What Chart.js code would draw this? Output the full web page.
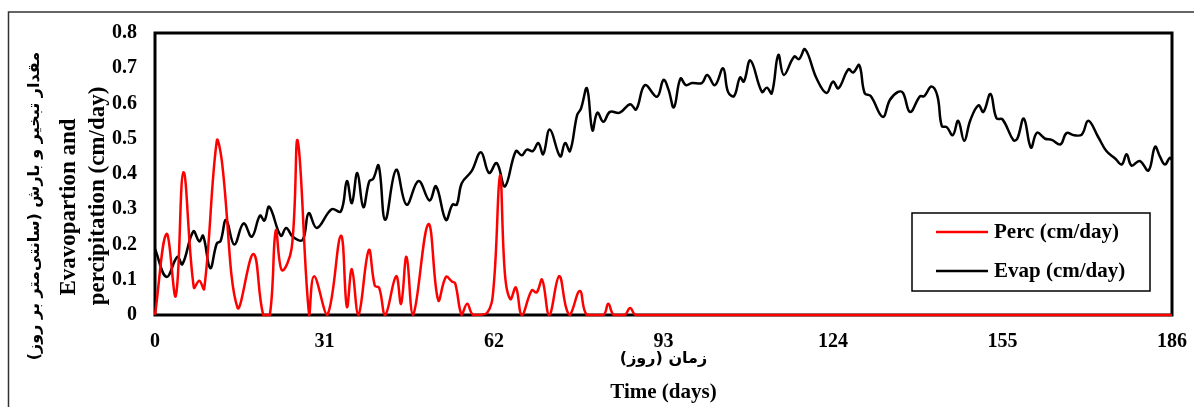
<!DOCTYPE html>
<html>
<head>
<meta charset="utf-8">
<script src="https://cdn.jsdelivr.net/npm/chart.js@4/dist/chart.umd.min.js"></script>
<style>
  body { margin: 0; background: #fff; }
  #wrap { width: 1194px; height: 407px; }
</style>
</head>
<body>
<div id="wrap"><canvas id="chart" width="1194" height="407"></canvas></div>
<script>
// x ticks every 31 days
const xTicks = [0, 31, 62, 93, 124, 155, 186];
const yTicks = [0, 0.1, 0.2, 0.3, 0.4, 0.5, 0.6, 0.7, 0.8];

// Perc (cm/day)
const percDays = [0, 2.1, 3.8, 5.2, 7.1, 8.1, 9.0, 11.3, 12.2, 15.1, 18.0, 19.8, 21.0, 22.1, 23.2, 25.0, 26.1, 28.2, 29.1, 31.5,
  34.0, 35.1, 36.0, 37.2, 39.1, 40.2, 41.0, 42.1, 44.1, 45.0, 46.0, 47.2, 50.0, 51.8, 53.2, 54.3, 54.9, 56.1, 57.1, 58.2,
  60.7, 61.9, 63.1, 64.0, 65.0, 66.0, 67.1, 68.9, 69.8, 70.8, 72.1, 73.9, 75.2, 75.9, 77.7, 79.0, 82.0, 82.9, 83.9, 85.9,
  86.9, 88.0, 186];
const percVals = [0, 0.23, 0.054, 0.405, 0.078, 0.097, 0.074, 0.494, 0.44, 0.02, 0.173, 0, 0, 0.24, 0.127, 0.19, 0.494, 0, 0.11, 0,
  0.225, 0.023, 0.13, 0, 0.184, 0.083, 0.077, 0, 0.11, 0.032, 0.165, 0, 0.258, 0.042, 0.108, 0.095, 0.09, 0, 0.032, 0,
  0.005, 0.075, 0.396, 0.116, 0.045, 0.078, 0, 0.07, 0.064, 0.10, 0, 0.11, 0.02, 0, 0.068, 0, 0, 0.032, 0, 0,
  0.02, 0, 0];

// Evap (cm/day)
const evapDays = [0, 2.1, 4.1, 5.0, 7.0, 8.1, 8.8, 10.1, 11.3, 12.0, 13.0, 14.5, 16.2, 17.7, 19.2, 20.0, 20.9, 23.0, 24.0, 25.2,
  27.0, 28.1, 29.6, 32.3, 34.0, 35.1, 36.0, 37.0, 38.1, 39.2, 39.9, 40.9, 42.1, 44.1, 46.0, 48.2, 50.2, 51.4, 53.2, 54.4,
  55.2, 56.1, 57.9, 59.6, 61.1, 62.5, 64.0, 66.0, 67.1, 68.0, 69.1, 70.1, 71.0, 72.2, 74.1, 75.0, 75.9, 77.2, 77.9, 79.0,
  80.0, 80.9, 82.0, 83.2, 85.0, 86.9, 88.0, 89.6, 91.8, 93.0, 93.9, 94.9, 96.1, 97.1, 98.2, 100.0, 101.0, 102.4, 103.9, 104.8,
  105.9, 107.0, 107.7, 108.9, 111.0, 111.9, 112.8, 114.0, 115.0, 116.9, 117.8, 118.9, 121.0, 122.8, 124.0, 125.0, 126.8, 127.7, 128.8, 129.8,
  130.9, 133.1, 134.4, 135.9, 136.8, 138.1, 139.9, 140.7, 142.0, 143.1, 143.9, 144.8, 145.9, 146.9, 148.0, 149.1, 150.6, 151.5, 152.8, 153.9,
  155.0, 157.0, 157.7, 158.9, 160.2, 161.3, 162.8, 164.0, 165.6, 166.7, 168.1, 169.5, 170.7, 172.5, 174.0, 175.6, 176.8, 177.7, 178.6, 180.1,
  181.7, 182.9, 183.8, 184.7, 185.6, 186];
const evapVals = [0.187, 0.108, 0.165, 0.144, 0.237, 0.209, 0.225, 0.133, 0.203, 0.21, 0.27, 0.20, 0.26, 0.222, 0.282, 0.268, 0.307, 0.225, 0.247, 0.222,
  0.213, 0.289, 0.247, 0.30, 0.294, 0.38, 0.317, 0.403, 0.306, 0.38, 0.386, 0.424, 0.27, 0.412, 0.313, 0.38, 0.325, 0.365, 0.27, 0.313,
  0.313, 0.374, 0.408, 0.462, 0.403, 0.431, 0.365, 0.465, 0.453, 0.469, 0.465, 0.488, 0.456, 0.526, 0.45, 0.488, 0.465, 0.567, 0.585, 0.643,
  0.524, 0.574, 0.548, 0.576, 0.574, 0.598, 0.583, 0.652, 0.619, 0.667, 0.64, 0.589, 0.671, 0.652, 0.658, 0.658, 0.681, 0.652, 0.70, 0.633,
  0.621, 0.674, 0.662, 0.722, 0.633, 0.645, 0.629, 0.738, 0.681, 0.733, 0.726, 0.754, 0.671, 0.63, 0.662, 0.643, 0.697, 0.688, 0.709, 0.629,
  0.621, 0.562, 0.61, 0.633, 0.63, 0.576, 0.62, 0.621, 0.648, 0.621, 0.536, 0.533, 0.51, 0.551, 0.494, 0.552, 0.595, 0.576, 0.627, 0.558,
  0.555, 0.496, 0.5, 0.557, 0.475, 0.517, 0.5, 0.497, 0.484, 0.516, 0.51, 0.512, 0.551, 0.505, 0.465, 0.444, 0.427, 0.456, 0.424, 0.437,
  0.41, 0.477, 0.449, 0.427, 0.446, 0.44];

const seriesNames = ['Perc (cm/day)', 'Evap (cm/day)'];

const toPoints = (xs, ys) => xs.map((x, i) => ({ x: x, y: ys[i] }));
const serif = '"Liberation Serif", "Times New Roman", serif';

// frame, titles, legend box and outer border
const decor = {
  id: 'decor',
  beforeDatasetsDraw(chart) {
    const { ctx, chartArea: a } = chart;
    ctx.save();
    ctx.strokeStyle = '#000';
    ctx.lineWidth = 3;
    ctx.strokeRect(a.left, a.top, a.right - a.left, a.bottom - a.top);
    ctx.restore();
  },
  afterDraw(chart) {
    const { ctx, chartArea: a } = chart;
    ctx.save();
    // outer border
    ctx.strokeStyle = '#333';
    ctx.lineWidth = 1.5;
    ctx.beginPath();
    ctx.moveTo(1194, 12);
    ctx.lineTo(8.5, 12);
    ctx.lineTo(8.5, 407);
    ctx.stroke();

    ctx.fillStyle = '#000';
    ctx.textAlign = 'center';
    ctx.textBaseline = 'middle';
    // x titles
    const cx = (a.left + a.right) / 2;
    ctx.font = 'bold 16px "DejaVu Sans", sans-serif';
    ctx.direction = 'rtl';
    ctx.fillText('زمان (روز)', cx, 359);
    ctx.direction = 'ltr';
    ctx.font = 'bold 21px ' + serif;
    ctx.fillText('Time (days)', cx, 393);

    // y titles
    ctx.save();
    ctx.translate(35, 206);
    ctx.rotate(-Math.PI / 2);
    ctx.font = 'bold 16px "DejaVu Sans", sans-serif';
    ctx.direction = 'rtl';
    ctx.fillText('مقدار تبخیر و بارش (سانتی‌متر بر روز)', 0, 0);
    ctx.restore();
    ctx.save();
    ctx.translate(69, 207);
    ctx.rotate(-Math.PI / 2);
    ctx.font = 'bold 23px ' + serif;
    ctx.fillText('Evavopartion and', 0, 0);
    ctx.restore();
    ctx.save();
    ctx.translate(98, 196);
    ctx.rotate(-Math.PI / 2);
    ctx.font = 'bold 23px ' + serif;
    ctx.fillText('percipitation (cm/day)', 0, 0);
    ctx.restore();

    // legend
    ctx.fillStyle = '#fff';
    ctx.fillRect(912, 213, 238, 78);
    ctx.strokeStyle = '#000';
    ctx.lineWidth = 1.5;
    ctx.strokeRect(912, 213, 238, 78);
    const rows = [232, 271];
    chart.data.datasets.forEach((ds, i) => {
      ctx.strokeStyle = ds.borderColor;
      ctx.lineWidth = 2.5;
      ctx.beginPath();
      ctx.moveTo(936, rows[i]);
      ctx.lineTo(988, rows[i]);
      ctx.stroke();
      ctx.fillStyle = '#000';
      ctx.textAlign = 'left';
      ctx.font = 'bold 21px ' + serif;
      ctx.fillText(ds.label, 994, rows[i] + 1);
    });
    ctx.restore();
  }
};

new Chart(document.getElementById('chart'), {
  type: 'line',
  data: {
    datasets: [
      {
        label: seriesNames[0],
        data: toPoints(percDays, percVals),
        borderColor: '#ff0000',
        borderWidth: 2.5,
        pointRadius: 0,
        tension: 0.4,
        clip: 3
      },
      {
        label: seriesNames[1],
        data: toPoints(evapDays, evapVals),
        borderColor: '#000000',
        borderWidth: 2.5,
        pointRadius: 0,
        tension: 0.4,
        clip: 3
      }
    ]
  },
  options: {
    responsive: false,
    animation: false,
    layout: { padding: { left: 0, top: 33, right: 22, bottom: 0 } },
    plugins: { legend: { display: false }, tooltip: { enabled: false } },
    scales: {
      x: {
        type: 'linear',
        min: 0,
        max: 186,
        afterBuildTicks: s => { s.ticks = xTicks.map(v => ({ value: v })); },
        afterFit: s => { s.height = 92; },
        grid: { display: false },
        border: { display: false },
        ticks: { color: '#000', padding: 7, maxRotation: 0, font: { family: serif, size: 20, weight: 'bold' } }
      },
      y: {
        min: 0,
        max: 0.8,
        afterBuildTicks: s => { s.ticks = yTicks.map(v => ({ value: v })); },
        afterFit: s => { s.width = 155; },
        grid: { display: false },
        border: { display: false },
        ticks: { color: '#000', padding: 10, font: { family: serif, size: 20, weight: 'bold' } }
      }
    }
  },
  plugins: [decor]
});
</script>
</body>
</html>
